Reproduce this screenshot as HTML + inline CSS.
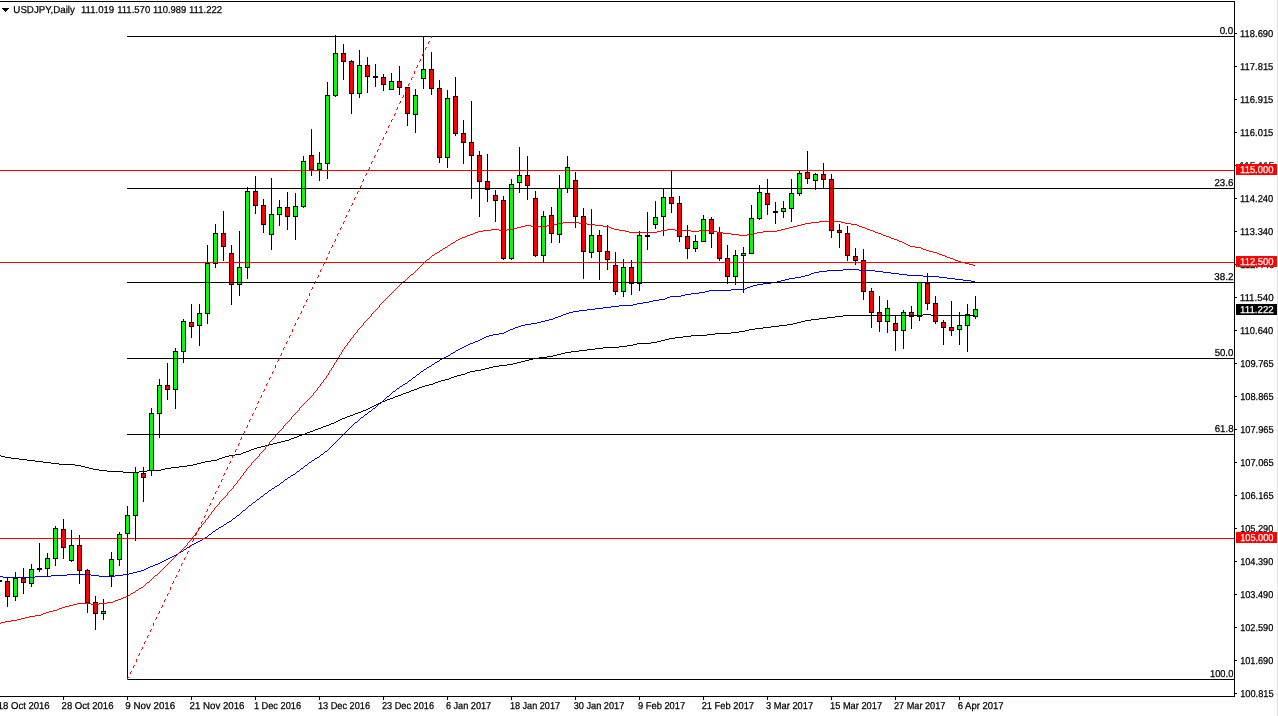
<!DOCTYPE html>
<html lang="en">
<head>
<meta charset="utf-8">
<title>USDJPY,Daily</title>
<style>
html,body{margin:0;padding:0;background:#fff;overflow:hidden;width:1278px;height:716px}
svg{display:block;position:absolute;left:0;top:0}
text{font-family:"Liberation Sans",Arial,sans-serif;font-size:10.0px;fill:#000;stroke:#000;stroke-width:0.25px;text-rendering:geometricPrecision}
.ce{shape-rendering:crispEdges}
.w{fill:#fff;stroke:#fff}
</style>
</head>
<body>

<svg width="1278" height="716" viewBox="0 0 1278 716">
<rect x="0" y="0" width="1278" height="716" fill="#fff"/>
<rect class="ce" x="1277" y="0" width="1" height="716" fill="#e3e3e3"/>
<g class="ce">
<rect x="-1" y="580" width="1" height="2" fill="#000"/>
<rect x="-3" y="580" width="5" height="2" fill="#000"/>
<rect x="7" y="578" width="1" height="29" fill="#000"/>
<rect x="5" y="581" width="5" height="16" fill="#000"/>
<rect x="6" y="582" width="3" height="14" fill="#f00"/>
<rect x="15" y="572" width="1" height="29" fill="#000"/>
<rect x="13" y="578" width="5" height="19" fill="#000"/>
<rect x="14" y="579" width="3" height="17" fill="#0f0"/>
<rect x="23" y="568" width="1" height="26" fill="#000"/>
<rect x="21" y="578" width="5" height="5" fill="#000"/>
<rect x="22" y="579" width="3" height="3" fill="#f00"/>
<rect x="31" y="564" width="1" height="23" fill="#000"/>
<rect x="29" y="569" width="5" height="15" fill="#000"/>
<rect x="30" y="570" width="3" height="13" fill="#0f0"/>
<rect x="39" y="543" width="1" height="29" fill="#000"/>
<rect x="37" y="568" width="5" height="2" fill="#000"/>
<rect x="47" y="553" width="1" height="24" fill="#000"/>
<rect x="45" y="558" width="5" height="11" fill="#000"/>
<rect x="46" y="559" width="3" height="9" fill="#0f0"/>
<rect x="55" y="526" width="1" height="40" fill="#000"/>
<rect x="53" y="528" width="5" height="31" fill="#000"/>
<rect x="54" y="529" width="3" height="29" fill="#0f0"/>
<rect x="63" y="519" width="1" height="40" fill="#000"/>
<rect x="61" y="529" width="5" height="19" fill="#000"/>
<rect x="62" y="530" width="3" height="17" fill="#f00"/>
<rect x="71" y="530" width="1" height="32" fill="#000"/>
<rect x="69" y="545" width="5" height="16" fill="#000"/>
<rect x="70" y="546" width="3" height="14" fill="#0f0"/>
<rect x="79" y="535" width="1" height="49" fill="#000"/>
<rect x="77" y="545" width="5" height="26" fill="#000"/>
<rect x="78" y="546" width="3" height="24" fill="#f00"/>
<rect x="87" y="569" width="1" height="44" fill="#000"/>
<rect x="85" y="570" width="5" height="33" fill="#000"/>
<rect x="86" y="571" width="3" height="31" fill="#f00"/>
<rect x="95" y="596" width="1" height="34" fill="#000"/>
<rect x="93" y="602" width="5" height="12" fill="#000"/>
<rect x="94" y="603" width="3" height="10" fill="#f00"/>
<rect x="103" y="599" width="1" height="21" fill="#000"/>
<rect x="101" y="611" width="5" height="3" fill="#000"/>
<rect x="102" y="612" width="3" height="1" fill="#0f0"/>
<rect x="111" y="552" width="1" height="35" fill="#000"/>
<rect x="109" y="559" width="5" height="17" fill="#000"/>
<rect x="110" y="560" width="3" height="15" fill="#0f0"/>
<rect x="119" y="532" width="1" height="34" fill="#000"/>
<rect x="117" y="534" width="5" height="26" fill="#000"/>
<rect x="118" y="535" width="3" height="24" fill="#0f0"/>
<rect x="127" y="506" width="1" height="174" fill="#000"/>
<rect x="125" y="515" width="5" height="19" fill="#000"/>
<rect x="126" y="516" width="3" height="17" fill="#0f0"/>
<rect x="135" y="467" width="1" height="74" fill="#000"/>
<rect x="133" y="472" width="5" height="44" fill="#000"/>
<rect x="134" y="473" width="3" height="42" fill="#0f0"/>
<rect x="143" y="467" width="1" height="35" fill="#000"/>
<rect x="141" y="473" width="5" height="5" fill="#000"/>
<rect x="142" y="474" width="3" height="3" fill="#f00"/>
<rect x="151" y="408" width="1" height="68" fill="#000"/>
<rect x="149" y="413" width="5" height="58" fill="#000"/>
<rect x="150" y="414" width="3" height="56" fill="#0f0"/>
<rect x="159" y="379" width="1" height="59" fill="#000"/>
<rect x="157" y="385" width="5" height="29" fill="#000"/>
<rect x="158" y="386" width="3" height="27" fill="#0f0"/>
<rect x="167" y="363" width="1" height="37" fill="#000"/>
<rect x="165" y="385" width="5" height="5" fill="#000"/>
<rect x="166" y="386" width="3" height="3" fill="#f00"/>
<rect x="175" y="348" width="1" height="61" fill="#000"/>
<rect x="173" y="351" width="5" height="39" fill="#000"/>
<rect x="174" y="352" width="3" height="37" fill="#0f0"/>
<rect x="183" y="319" width="1" height="44" fill="#000"/>
<rect x="181" y="321" width="5" height="31" fill="#000"/>
<rect x="182" y="322" width="3" height="29" fill="#0f0"/>
<rect x="191" y="304" width="1" height="34" fill="#000"/>
<rect x="189" y="322" width="5" height="5" fill="#000"/>
<rect x="190" y="323" width="3" height="3" fill="#f00"/>
<rect x="199" y="304" width="1" height="42" fill="#000"/>
<rect x="197" y="313" width="5" height="13" fill="#000"/>
<rect x="198" y="314" width="3" height="11" fill="#0f0"/>
<rect x="207" y="245" width="1" height="79" fill="#000"/>
<rect x="205" y="263" width="5" height="51" fill="#000"/>
<rect x="206" y="264" width="3" height="49" fill="#0f0"/>
<rect x="215" y="224" width="1" height="44" fill="#000"/>
<rect x="213" y="233" width="5" height="31" fill="#000"/>
<rect x="214" y="234" width="3" height="29" fill="#0f0"/>
<rect x="223" y="211" width="1" height="50" fill="#000"/>
<rect x="221" y="233" width="5" height="14" fill="#000"/>
<rect x="222" y="234" width="3" height="12" fill="#f00"/>
<rect x="231" y="245" width="1" height="60" fill="#000"/>
<rect x="229" y="253" width="5" height="32" fill="#000"/>
<rect x="230" y="254" width="3" height="30" fill="#f00"/>
<rect x="239" y="231" width="1" height="65" fill="#000"/>
<rect x="237" y="267" width="5" height="18" fill="#000"/>
<rect x="238" y="268" width="3" height="16" fill="#0f0"/>
<rect x="247" y="187" width="1" height="92" fill="#000"/>
<rect x="245" y="191" width="5" height="77" fill="#000"/>
<rect x="246" y="192" width="3" height="75" fill="#0f0"/>
<rect x="255" y="176" width="1" height="38" fill="#000"/>
<rect x="253" y="191" width="5" height="15" fill="#000"/>
<rect x="254" y="192" width="3" height="13" fill="#f00"/>
<rect x="263" y="199" width="1" height="34" fill="#000"/>
<rect x="261" y="205" width="5" height="20" fill="#000"/>
<rect x="262" y="206" width="3" height="18" fill="#f00"/>
<rect x="271" y="178" width="1" height="72" fill="#000"/>
<rect x="269" y="214" width="5" height="21" fill="#000"/>
<rect x="270" y="215" width="3" height="19" fill="#0f0"/>
<rect x="279" y="200" width="1" height="26" fill="#000"/>
<rect x="277" y="207" width="5" height="8" fill="#000"/>
<rect x="278" y="208" width="3" height="6" fill="#0f0"/>
<rect x="287" y="192" width="1" height="38" fill="#000"/>
<rect x="285" y="207" width="5" height="10" fill="#000"/>
<rect x="286" y="208" width="3" height="8" fill="#f00"/>
<rect x="295" y="193" width="1" height="47" fill="#000"/>
<rect x="293" y="206" width="5" height="11" fill="#000"/>
<rect x="294" y="207" width="3" height="9" fill="#0f0"/>
<rect x="303" y="156" width="1" height="52" fill="#000"/>
<rect x="301" y="161" width="5" height="46" fill="#000"/>
<rect x="302" y="162" width="3" height="44" fill="#0f0"/>
<rect x="311" y="129" width="1" height="47" fill="#000"/>
<rect x="309" y="155" width="5" height="15" fill="#000"/>
<rect x="310" y="156" width="3" height="13" fill="#f00"/>
<rect x="319" y="152" width="1" height="29" fill="#000"/>
<rect x="317" y="163" width="5" height="7" fill="#000"/>
<rect x="318" y="164" width="3" height="5" fill="#0f0"/>
<rect x="327" y="82" width="1" height="97" fill="#000"/>
<rect x="325" y="95" width="5" height="69" fill="#000"/>
<rect x="326" y="96" width="3" height="67" fill="#0f0"/>
<rect x="335" y="35" width="1" height="62" fill="#000"/>
<rect x="333" y="53" width="5" height="43" fill="#000"/>
<rect x="334" y="54" width="3" height="41" fill="#0f0"/>
<rect x="343" y="44" width="1" height="36" fill="#000"/>
<rect x="341" y="53" width="5" height="9" fill="#000"/>
<rect x="342" y="54" width="3" height="7" fill="#f00"/>
<rect x="351" y="60" width="1" height="54" fill="#000"/>
<rect x="349" y="61" width="5" height="33" fill="#000"/>
<rect x="350" y="62" width="3" height="31" fill="#f00"/>
<rect x="359" y="50" width="1" height="48" fill="#000"/>
<rect x="357" y="65" width="5" height="29" fill="#000"/>
<rect x="358" y="66" width="3" height="27" fill="#0f0"/>
<rect x="367" y="57" width="1" height="36" fill="#000"/>
<rect x="365" y="65" width="5" height="12" fill="#000"/>
<rect x="366" y="66" width="3" height="10" fill="#f00"/>
<rect x="375" y="64" width="1" height="23" fill="#000"/>
<rect x="373" y="76" width="5" height="2" fill="#000"/>
<rect x="383" y="74" width="1" height="17" fill="#000"/>
<rect x="381" y="77" width="5" height="8" fill="#000"/>
<rect x="382" y="78" width="3" height="6" fill="#f00"/>
<rect x="391" y="73" width="1" height="17" fill="#000"/>
<rect x="389" y="81" width="5" height="9" fill="#000"/>
<rect x="390" y="82" width="3" height="7" fill="#0f0"/>
<rect x="399" y="66" width="1" height="29" fill="#000"/>
<rect x="397" y="81" width="5" height="7" fill="#000"/>
<rect x="398" y="82" width="3" height="5" fill="#f00"/>
<rect x="407" y="87" width="1" height="39" fill="#000"/>
<rect x="405" y="87" width="5" height="27" fill="#000"/>
<rect x="406" y="88" width="3" height="25" fill="#f00"/>
<rect x="415" y="89" width="1" height="44" fill="#000"/>
<rect x="413" y="95" width="5" height="20" fill="#000"/>
<rect x="414" y="96" width="3" height="18" fill="#0f0"/>
<rect x="423" y="36" width="1" height="53" fill="#000"/>
<rect x="421" y="69" width="5" height="10" fill="#000"/>
<rect x="422" y="70" width="3" height="8" fill="#0f0"/>
<rect x="431" y="52" width="1" height="43" fill="#000"/>
<rect x="429" y="69" width="5" height="20" fill="#000"/>
<rect x="430" y="70" width="3" height="18" fill="#f00"/>
<rect x="439" y="80" width="1" height="83" fill="#000"/>
<rect x="437" y="88" width="5" height="70" fill="#000"/>
<rect x="438" y="89" width="3" height="68" fill="#f00"/>
<rect x="447" y="90" width="1" height="78" fill="#000"/>
<rect x="445" y="98" width="5" height="60" fill="#000"/>
<rect x="446" y="99" width="3" height="58" fill="#0f0"/>
<rect x="455" y="77" width="1" height="59" fill="#000"/>
<rect x="453" y="96" width="5" height="38" fill="#000"/>
<rect x="454" y="97" width="3" height="36" fill="#f00"/>
<rect x="463" y="120" width="1" height="44" fill="#000"/>
<rect x="461" y="133" width="5" height="10" fill="#000"/>
<rect x="462" y="134" width="3" height="8" fill="#f00"/>
<rect x="471" y="101" width="1" height="98" fill="#000"/>
<rect x="469" y="142" width="5" height="14" fill="#000"/>
<rect x="470" y="143" width="3" height="12" fill="#f00"/>
<rect x="479" y="151" width="1" height="66" fill="#000"/>
<rect x="477" y="155" width="5" height="27" fill="#000"/>
<rect x="478" y="156" width="3" height="25" fill="#f00"/>
<rect x="487" y="154" width="1" height="48" fill="#000"/>
<rect x="485" y="181" width="5" height="9" fill="#000"/>
<rect x="486" y="182" width="3" height="7" fill="#f00"/>
<rect x="495" y="190" width="1" height="32" fill="#000"/>
<rect x="493" y="195" width="5" height="6" fill="#000"/>
<rect x="494" y="196" width="3" height="4" fill="#f00"/>
<rect x="503" y="196" width="1" height="64" fill="#000"/>
<rect x="501" y="200" width="5" height="59" fill="#000"/>
<rect x="502" y="201" width="3" height="57" fill="#f00"/>
<rect x="511" y="179" width="1" height="81" fill="#000"/>
<rect x="509" y="184" width="5" height="75" fill="#000"/>
<rect x="510" y="185" width="3" height="73" fill="#0f0"/>
<rect x="519" y="147" width="1" height="46" fill="#000"/>
<rect x="517" y="175" width="5" height="8" fill="#000"/>
<rect x="518" y="176" width="3" height="6" fill="#0f0"/>
<rect x="527" y="156" width="1" height="44" fill="#000"/>
<rect x="525" y="175" width="5" height="11" fill="#000"/>
<rect x="526" y="176" width="3" height="9" fill="#f00"/>
<rect x="535" y="191" width="1" height="66" fill="#000"/>
<rect x="533" y="198" width="5" height="58" fill="#000"/>
<rect x="534" y="199" width="3" height="56" fill="#f00"/>
<rect x="543" y="211" width="1" height="51" fill="#000"/>
<rect x="541" y="216" width="5" height="40" fill="#000"/>
<rect x="542" y="217" width="3" height="38" fill="#0f0"/>
<rect x="551" y="207" width="1" height="36" fill="#000"/>
<rect x="549" y="215" width="5" height="19" fill="#000"/>
<rect x="550" y="216" width="3" height="17" fill="#f00"/>
<rect x="559" y="175" width="1" height="68" fill="#000"/>
<rect x="557" y="188" width="5" height="47" fill="#000"/>
<rect x="558" y="189" width="3" height="45" fill="#0f0"/>
<rect x="567" y="156" width="1" height="37" fill="#000"/>
<rect x="565" y="167" width="5" height="22" fill="#000"/>
<rect x="566" y="168" width="3" height="20" fill="#0f0"/>
<rect x="575" y="172" width="1" height="56" fill="#000"/>
<rect x="573" y="180" width="5" height="37" fill="#000"/>
<rect x="574" y="181" width="3" height="35" fill="#f00"/>
<rect x="583" y="208" width="1" height="71" fill="#000"/>
<rect x="581" y="216" width="5" height="36" fill="#000"/>
<rect x="582" y="217" width="3" height="34" fill="#f00"/>
<rect x="591" y="209" width="1" height="49" fill="#000"/>
<rect x="589" y="235" width="5" height="18" fill="#000"/>
<rect x="590" y="236" width="3" height="16" fill="#0f0"/>
<rect x="599" y="230" width="1" height="50" fill="#000"/>
<rect x="597" y="235" width="5" height="17" fill="#000"/>
<rect x="598" y="236" width="3" height="15" fill="#f00"/>
<rect x="607" y="225" width="1" height="45" fill="#000"/>
<rect x="605" y="251" width="5" height="9" fill="#000"/>
<rect x="606" y="252" width="3" height="7" fill="#f00"/>
<rect x="615" y="252" width="1" height="43" fill="#000"/>
<rect x="613" y="265" width="5" height="27" fill="#000"/>
<rect x="614" y="266" width="3" height="25" fill="#f00"/>
<rect x="623" y="259" width="1" height="38" fill="#000"/>
<rect x="621" y="267" width="5" height="25" fill="#000"/>
<rect x="622" y="268" width="3" height="23" fill="#0f0"/>
<rect x="631" y="260" width="1" height="35" fill="#000"/>
<rect x="629" y="267" width="5" height="17" fill="#000"/>
<rect x="630" y="268" width="3" height="15" fill="#f00"/>
<rect x="639" y="231" width="1" height="60" fill="#000"/>
<rect x="637" y="235" width="5" height="49" fill="#000"/>
<rect x="638" y="236" width="3" height="47" fill="#0f0"/>
<rect x="647" y="212" width="1" height="38" fill="#000"/>
<rect x="645" y="235" width="5" height="2" fill="#000"/>
<rect x="655" y="201" width="1" height="28" fill="#000"/>
<rect x="653" y="217" width="5" height="8" fill="#000"/>
<rect x="654" y="218" width="3" height="6" fill="#0f0"/>
<rect x="663" y="189" width="1" height="47" fill="#000"/>
<rect x="661" y="197" width="5" height="20" fill="#000"/>
<rect x="662" y="198" width="3" height="18" fill="#0f0"/>
<rect x="671" y="171" width="1" height="42" fill="#000"/>
<rect x="669" y="197" width="5" height="7" fill="#000"/>
<rect x="670" y="198" width="3" height="5" fill="#f00"/>
<rect x="679" y="196" width="1" height="46" fill="#000"/>
<rect x="677" y="203" width="5" height="34" fill="#000"/>
<rect x="678" y="204" width="3" height="32" fill="#f00"/>
<rect x="687" y="225" width="1" height="34" fill="#000"/>
<rect x="685" y="236" width="5" height="13" fill="#000"/>
<rect x="686" y="237" width="3" height="11" fill="#f00"/>
<rect x="695" y="235" width="1" height="17" fill="#000"/>
<rect x="693" y="241" width="5" height="8" fill="#000"/>
<rect x="694" y="242" width="3" height="6" fill="#0f0"/>
<rect x="703" y="215" width="1" height="27" fill="#000"/>
<rect x="701" y="219" width="5" height="23" fill="#000"/>
<rect x="702" y="220" width="3" height="21" fill="#0f0"/>
<rect x="711" y="217" width="1" height="31" fill="#000"/>
<rect x="709" y="219" width="5" height="15" fill="#000"/>
<rect x="710" y="220" width="3" height="13" fill="#f00"/>
<rect x="719" y="227" width="1" height="34" fill="#000"/>
<rect x="717" y="232" width="5" height="27" fill="#000"/>
<rect x="718" y="233" width="3" height="25" fill="#f00"/>
<rect x="727" y="245" width="1" height="39" fill="#000"/>
<rect x="725" y="258" width="5" height="19" fill="#000"/>
<rect x="726" y="259" width="3" height="17" fill="#f00"/>
<rect x="735" y="250" width="1" height="35" fill="#000"/>
<rect x="733" y="255" width="5" height="22" fill="#000"/>
<rect x="734" y="256" width="3" height="20" fill="#0f0"/>
<rect x="743" y="247" width="1" height="46" fill="#000"/>
<rect x="741" y="253" width="5" height="3" fill="#000"/>
<rect x="742" y="254" width="3" height="1" fill="#0f0"/>
<rect x="751" y="205" width="1" height="49" fill="#000"/>
<rect x="749" y="218" width="5" height="36" fill="#000"/>
<rect x="750" y="219" width="3" height="34" fill="#0f0"/>
<rect x="759" y="185" width="1" height="35" fill="#000"/>
<rect x="757" y="192" width="5" height="27" fill="#000"/>
<rect x="758" y="193" width="3" height="25" fill="#0f0"/>
<rect x="767" y="179" width="1" height="36" fill="#000"/>
<rect x="765" y="193" width="5" height="12" fill="#000"/>
<rect x="766" y="194" width="3" height="10" fill="#f00"/>
<rect x="775" y="202" width="1" height="22" fill="#000"/>
<rect x="773" y="211" width="5" height="2" fill="#000"/>
<rect x="783" y="201" width="1" height="17" fill="#000"/>
<rect x="781" y="208" width="5" height="4" fill="#000"/>
<rect x="782" y="209" width="3" height="2" fill="#0f0"/>
<rect x="791" y="179" width="1" height="43" fill="#000"/>
<rect x="789" y="193" width="5" height="16" fill="#000"/>
<rect x="790" y="194" width="3" height="14" fill="#0f0"/>
<rect x="799" y="171" width="1" height="25" fill="#000"/>
<rect x="797" y="173" width="5" height="21" fill="#000"/>
<rect x="798" y="174" width="3" height="19" fill="#0f0"/>
<rect x="807" y="151" width="1" height="33" fill="#000"/>
<rect x="805" y="172" width="5" height="7" fill="#000"/>
<rect x="806" y="173" width="3" height="5" fill="#f00"/>
<rect x="815" y="173" width="1" height="17" fill="#000"/>
<rect x="813" y="174" width="5" height="7" fill="#000"/>
<rect x="814" y="175" width="3" height="5" fill="#0f0"/>
<rect x="823" y="163" width="1" height="26" fill="#000"/>
<rect x="821" y="174" width="5" height="6" fill="#000"/>
<rect x="822" y="175" width="3" height="4" fill="#f00"/>
<rect x="831" y="174" width="1" height="64" fill="#000"/>
<rect x="829" y="179" width="5" height="52" fill="#000"/>
<rect x="830" y="180" width="3" height="50" fill="#f00"/>
<rect x="839" y="224" width="1" height="24" fill="#000"/>
<rect x="837" y="230" width="5" height="3" fill="#000"/>
<rect x="838" y="231" width="3" height="1" fill="#f00"/>
<rect x="847" y="226" width="1" height="35" fill="#000"/>
<rect x="845" y="233" width="5" height="23" fill="#000"/>
<rect x="846" y="234" width="3" height="21" fill="#f00"/>
<rect x="855" y="248" width="1" height="17" fill="#000"/>
<rect x="853" y="256" width="5" height="5" fill="#000"/>
<rect x="854" y="257" width="3" height="3" fill="#f00"/>
<rect x="863" y="249" width="1" height="51" fill="#000"/>
<rect x="861" y="260" width="5" height="32" fill="#000"/>
<rect x="862" y="261" width="3" height="30" fill="#f00"/>
<rect x="871" y="288" width="1" height="40" fill="#000"/>
<rect x="869" y="291" width="5" height="22" fill="#000"/>
<rect x="870" y="292" width="3" height="20" fill="#f00"/>
<rect x="879" y="296" width="1" height="36" fill="#000"/>
<rect x="877" y="312" width="5" height="10" fill="#000"/>
<rect x="878" y="313" width="3" height="8" fill="#f00"/>
<rect x="887" y="300" width="1" height="33" fill="#000"/>
<rect x="885" y="308" width="5" height="14" fill="#000"/>
<rect x="886" y="309" width="3" height="12" fill="#0f0"/>
<rect x="895" y="315" width="1" height="36" fill="#000"/>
<rect x="893" y="323" width="5" height="8" fill="#000"/>
<rect x="894" y="324" width="3" height="6" fill="#f00"/>
<rect x="903" y="310" width="1" height="39" fill="#000"/>
<rect x="901" y="312" width="5" height="19" fill="#000"/>
<rect x="902" y="313" width="3" height="17" fill="#0f0"/>
<rect x="911" y="306" width="1" height="23" fill="#000"/>
<rect x="909" y="312" width="5" height="5" fill="#000"/>
<rect x="910" y="313" width="3" height="3" fill="#f00"/>
<rect x="919" y="282" width="1" height="39" fill="#000"/>
<rect x="917" y="282" width="5" height="35" fill="#000"/>
<rect x="918" y="283" width="3" height="33" fill="#0f0"/>
<rect x="927" y="273" width="1" height="37" fill="#000"/>
<rect x="925" y="283" width="5" height="21" fill="#000"/>
<rect x="926" y="284" width="3" height="19" fill="#f00"/>
<rect x="935" y="296" width="1" height="28" fill="#000"/>
<rect x="933" y="303" width="5" height="19" fill="#000"/>
<rect x="934" y="304" width="3" height="17" fill="#f00"/>
<rect x="943" y="320" width="1" height="25" fill="#000"/>
<rect x="941" y="322" width="5" height="6" fill="#000"/>
<rect x="942" y="323" width="3" height="4" fill="#f00"/>
<rect x="951" y="301" width="1" height="35" fill="#000"/>
<rect x="949" y="327" width="5" height="4" fill="#000"/>
<rect x="950" y="328" width="3" height="2" fill="#f00"/>
<rect x="959" y="312" width="1" height="33" fill="#000"/>
<rect x="957" y="325" width="5" height="5" fill="#000"/>
<rect x="958" y="326" width="3" height="3" fill="#0f0"/>
<rect x="967" y="304" width="1" height="48" fill="#000"/>
<rect x="965" y="314" width="5" height="12" fill="#000"/>
<rect x="966" y="315" width="3" height="10" fill="#0f0"/>
<rect x="975" y="296" width="1" height="23" fill="#000"/>
<rect x="973" y="309" width="5" height="8" fill="#000"/>
<rect x="974" y="310" width="3" height="6" fill="#0f0"/>
</g>
<path class="ce" fill="#000" d="M923 314h8v1h-8zM843 315h80v1h-80zM931 315h44v1h-44zM835 316h8v1h-8zM827 317h8v1h-8zM819 318h8v1h-8zM811 319h8v1h-8zM805 320h6v1h-6zM801 321h4v1h-4zM797 322h4v1h-4zM793 323h4v1h-4zM787 324h6v1h-6zM779 325h8v1h-8zM771 326h8v1h-8zM763 327h8v1h-8zM755 328h8v1h-8zM749 329h6v1h-6zM745 330h4v1h-4zM739 331h6v1h-6zM731 332h8v1h-8zM715 333h16v1h-16zM707 334h8v1h-8zM691 335h16v1h-16zM683 336h8v1h-8zM675 337h8v1h-8zM669 338h6v1h-6zM665 339h4v1h-4zM661 340h4v1h-4zM657 341h4v1h-4zM651 342h6v1h-6zM637 343h14v1h-14zM633 344h4v1h-4zM627 345h6v1h-6zM619 346h8v1h-8zM603 347h16v1h-16zM595 348h8v1h-8zM587 349h8v1h-8zM579 350h8v1h-8zM571 351h8v1h-8zM565 352h6v1h-6zM561 353h4v1h-4zM557 354h4v1h-4zM553 355h4v1h-4zM547 356h6v1h-6zM539 357h8v1h-8zM533 358h6v1h-6zM529 359h4v1h-4zM525 360h4v1h-4zM521 361h4v1h-4zM517 362h4v1h-4zM513 363h4v1h-4zM507 364h6v1h-6zM499 365h8v1h-8zM493 366h6v1h-6zM489 367h4v1h-4zM485 368h4v1h-4zM481 369h4v1h-4zM475 370h6v1h-6zM470 371h5v1h-5zM467 372h3v1h-3zM465 373h2v1h-2zM461 374h4v1h-4zM457 375h4v1h-4zM454 376h3v1h-3zM451 377h3v1h-3zM449 378h2v1h-2zM445 379h4v1h-4zM441 380h4v1h-4zM438 381h3v1h-3zM435 382h3v1h-3zM433 383h2v1h-2zM429 384h4v1h-4zM425 385h4v1h-4zM422 386h3v1h-3zM419 387h3v1h-3zM417 388h2v1h-2zM414 389h3v1h-3zM411 390h3v1h-3zM409 391h2v1h-2zM406 392h3v1h-3zM403 393h3v1h-3zM401 394h2v1h-2zM398 395h3v1h-3zM395 396h3v1h-3zM393 397h2v1h-2zM390 398h3v1h-3zM387 399h3v1h-3zM385 400h2v1h-2zM382 401h3v1h-3zM380 402h2v1h-2zM378 403h2v1h-2zM376 404h2v1h-2zM374 405h2v1h-2zM372 406h2v1h-2zM370 407h2v1h-2zM368 408h2v1h-2zM366 409h2v1h-2zM363 410h3v1h-3zM361 411h2v1h-2zM358 412h3v1h-3zM355 413h3v1h-3zM353 414h2v1h-2zM350 415h3v1h-3zM347 416h3v1h-3zM345 417h2v1h-2zM342 418h3v1h-3zM340 419h2v1h-2zM338 420h2v1h-2zM336 421h2v1h-2zM334 422h2v1h-2zM331 423h3v1h-3zM329 424h2v1h-2zM326 425h3v1h-3zM323 426h3v1h-3zM321 427h2v1h-2zM318 428h3v1h-3zM315 429h3v1h-3zM313 430h2v1h-2zM310 431h3v1h-3zM307 432h3v1h-3zM305 433h2v1h-2zM302 434h3v1h-3zM299 435h3v1h-3zM297 436h2v1h-2zM294 437h3v1h-3zM291 438h3v1h-3zM289 439h2v1h-2zM285 440h4v1h-4zM281 441h4v1h-4zM277 442h4v1h-4zM273 443h4v1h-4zM269 444h4v1h-4zM265 445h4v1h-4zM261 446h4v1h-4zM257 447h4v1h-4zM254 448h3v1h-3zM251 449h3v1h-3zM249 450h2v1h-2zM246 451h3v1h-3zM243 452h3v1h-3zM241 453h2v1h-2zM235 454h6v1h-6zM0 455h1v1h-1zM229 455h6v1h-6zM1 456h4v1h-4zM225 456h4v1h-4zM5 457h6v1h-6zM222 457h3v1h-3zM11 458h8v1h-8zM219 458h3v1h-3zM19 459h8v1h-8zM217 459h2v1h-2zM27 460h8v1h-8zM211 460h6v1h-6zM35 461h8v1h-8zM205 461h6v1h-6zM43 462h8v1h-8zM201 462h4v1h-4zM51 463h8v1h-8zM197 463h4v1h-4zM59 464h16v1h-16zM193 464h4v1h-4zM75 465h6v1h-6zM187 465h6v1h-6zM81 466h4v1h-4zM179 466h8v1h-8zM85 467h4v1h-4zM171 467h8v1h-8zM89 468h4v1h-4zM165 468h6v1h-6zM93 469h6v1h-6zM161 469h4v1h-4zM99 470h8v1h-8zM147 470h14v1h-14zM107 471h16v1h-16zM139 471h8v1h-8zM123 472h16v1h-16z"/>
<path class="ce" fill="#0000cd" d="M843 269h16v1h-16zM827 270h16v1h-16zM859 270h16v1h-16zM819 271h8v1h-8zM875 271h8v1h-8zM814 272h5v1h-5zM883 272h8v1h-8zM811 273h3v1h-3zM891 273h8v1h-8zM809 274h2v1h-2zM899 274h8v1h-8zM805 275h4v1h-4zM907 275h16v1h-16zM801 276h4v1h-4zM923 276h16v1h-16zM795 277h6v1h-6zM939 277h8v1h-8zM789 278h6v1h-6zM947 278h8v1h-8zM785 279h4v1h-4zM955 279h8v1h-8zM781 280h4v1h-4zM963 280h8v1h-8zM777 281h4v1h-4zM971 281h4v1h-4zM771 282h6v1h-6zM763 283h8v1h-8zM757 284h6v1h-6zM753 285h4v1h-4zM750 286h3v1h-3zM747 287h3v1h-3zM745 288h2v1h-2zM731 289h14v1h-14zM709 290h22v1h-22zM705 291h4v1h-4zM699 292h6v1h-6zM691 293h8v1h-8zM685 294h6v1h-6zM681 295h4v1h-4zM670 296h11v1h-11zM667 297h3v1h-3zM665 298h2v1h-2zM659 299h6v1h-6zM653 300h6v1h-6zM649 301h4v1h-4zM643 302h6v1h-6zM637 303h6v1h-6zM633 304h4v1h-4zM619 305h14v1h-14zM611 306h8v1h-8zM603 307h8v1h-8zM595 308h8v1h-8zM587 309h8v1h-8zM579 310h8v1h-8zM573 311h6v1h-6zM569 312h4v1h-4zM566 313h3v1h-3zM563 314h3v1h-3zM561 315h2v1h-2zM558 316h3v1h-3zM555 317h3v1h-3zM553 318h2v1h-2zM549 319h4v1h-4zM545 320h4v1h-4zM541 321h4v1h-4zM537 322h4v1h-4zM531 323h6v1h-6zM525 324h6v1h-6zM521 325h4v1h-4zM518 326h3v1h-3zM515 327h3v1h-3zM513 328h2v1h-2zM510 329h3v1h-3zM508 330h2v1h-2zM506 331h2v1h-2zM504 332h2v1h-2zM499 333h5v1h-5zM493 334h6v1h-6zM489 335h4v1h-4zM486 336h3v1h-3zM484 337h2v1h-2zM482 338h2v1h-2zM480 339h2v1h-2zM478 340h2v1h-2zM475 341h3v1h-3zM473 342h2v1h-2zM470 343h3v1h-3zM468 344h2v1h-2zM466 345h2v1h-2zM464 346h2v1h-2zM462 347h2v1h-2zM460 348h2v1h-2zM458 349h2v1h-2zM456 350h2v1h-2zM455 351h1v1h-1zM453 352h2v1h-2zM451 353h2v1h-2zM450 354h1v1h-1zM448 355h2v1h-2zM446 356h2v1h-2zM444 357h2v1h-2zM442 358h2v1h-2zM440 359h2v1h-2zM439 360h1v1h-1zM437 361h2v1h-2zM435 362h2v1h-2zM434 363h1v1h-1zM432 364h2v1h-2zM431 365h1v1h-1zM429 366h2v1h-2zM427 367h2v1h-2zM426 368h1v1h-1zM424 369h2v1h-2zM423 370h1v1h-1zM421 371h2v1h-2zM420 372h1v1h-1zM419 373h1v1h-1zM417 374h2v1h-2zM416 375h1v1h-1zM415 376h1v1h-1zM413 377h2v1h-2zM412 378h1v1h-1zM411 379h1v1h-1zM409 380h2v1h-2zM408 381h1v1h-1zM407 382h1v1h-1zM405 383h2v1h-2zM403 384h2v1h-2zM402 385h1v1h-1zM400 386h2v1h-2zM399 387h1v1h-1zM397 388h2v1h-2zM396 389h1v1h-1zM395 390h1v1h-1zM393 391h2v1h-2zM392 392h1v1h-1zM391 393h1v1h-1zM390 394h1v1h-1zM389 395h1v1h-1zM387 396h2v1h-2zM386 397h1v1h-1zM385 398h1v1h-1zM384 399h1v1h-1zM383 400h1v1h-1zM382 401h1v1h-1zM381 402h1v1h-1zM379 403h2v1h-2zM378 404h1v1h-1zM377 405h1v1h-1zM376 406h1v1h-1zM375 407h1v1h-1zM373 408h2v1h-2zM372 409h1v1h-1zM371 410h1v1h-1zM369 411h2v1h-2zM368 412h1v1h-1zM367 413h1v1h-1zM365 414h2v1h-2zM364 415h1v1h-1zM363 416h1v1h-1zM361 417h2v1h-2zM360 418h1v1h-1zM359 419h1v1h-1zM358 420h1v1h-1zM357 421h1v1h-1zM355 422h2v1h-2zM354 423h1v1h-1zM353 424h1v1h-1zM352 425h1v1h-1zM351 426h1v1h-1zM350 427h1v1h-1zM349 428h1v1h-1zM348 429h1v1h-1zM347 430h1v1h-1zM346 431h1v1h-1zM345 432h1v1h-1zM344 433h1v1h-1zM343 434h1v1h-1zM342 435h1v1h-1zM341 436h1v1h-1zM340 437h1v1h-1zM339 438h1v1h-1zM338 439h1v1h-1zM337 440h1v1h-1zM336 441h1v1h-1zM335 442h1v1h-1zM334 443h1v1h-1zM333 444h1v1h-1zM332 445h1v1h-1zM331 446h1v1h-1zM330 447h1v1h-1zM329 448h1v1h-1zM328 449h1v1h-1zM327 450h1v1h-1zM325 451h2v1h-2zM324 452h1v1h-1zM323 453h1v1h-1zM321 454h2v1h-2zM320 455h1v1h-1zM319 456h1v1h-1zM317 457h2v1h-2zM315 458h2v1h-2zM314 459h1v1h-1zM312 460h2v1h-2zM311 461h1v1h-1zM309 462h2v1h-2zM308 463h1v1h-1zM307 464h1v1h-1zM305 465h2v1h-2zM304 466h1v1h-1zM303 467h1v1h-1zM301 468h2v1h-2zM300 469h1v1h-1zM299 470h1v1h-1zM297 471h2v1h-2zM296 472h1v1h-1zM295 473h1v1h-1zM293 474h2v1h-2zM291 475h2v1h-2zM290 476h1v1h-1zM288 477h2v1h-2zM287 478h1v1h-1zM285 479h2v1h-2zM284 480h1v1h-1zM283 481h1v1h-1zM281 482h2v1h-2zM280 483h1v1h-1zM279 484h1v1h-1zM277 485h2v1h-2zM275 486h2v1h-2zM274 487h1v1h-1zM272 488h2v1h-2zM271 489h1v1h-1zM269 490h2v1h-2zM268 491h1v1h-1zM267 492h1v1h-1zM265 493h2v1h-2zM264 494h1v1h-1zM263 495h1v1h-1zM261 496h2v1h-2zM260 497h1v1h-1zM259 498h1v1h-1zM257 499h2v1h-2zM256 500h1v1h-1zM255 501h1v1h-1zM253 502h2v1h-2zM252 503h1v1h-1zM251 504h1v1h-1zM249 505h2v1h-2zM248 506h1v1h-1zM247 507h1v1h-1zM246 508h1v1h-1zM245 509h1v1h-1zM243 510h2v1h-2zM242 511h1v1h-1zM241 512h1v1h-1zM240 513h1v1h-1zM239 514h1v1h-1zM237 515h2v1h-2zM236 516h1v1h-1zM235 517h1v1h-1zM233 518h2v1h-2zM232 519h1v1h-1zM231 520h1v1h-1zM229 521h2v1h-2zM227 522h2v1h-2zM226 523h1v1h-1zM224 524h2v1h-2zM223 525h1v1h-1zM221 526h2v1h-2zM219 527h2v1h-2zM218 528h1v1h-1zM216 529h2v1h-2zM215 530h1v1h-1zM213 531h2v1h-2zM212 532h1v1h-1zM211 533h1v1h-1zM209 534h2v1h-2zM208 535h1v1h-1zM207 536h1v1h-1zM205 537h2v1h-2zM203 538h2v1h-2zM202 539h1v1h-1zM200 540h2v1h-2zM198 541h2v1h-2zM196 542h2v1h-2zM194 543h2v1h-2zM192 544h2v1h-2zM191 545h1v1h-1zM189 546h2v1h-2zM187 547h2v1h-2zM186 548h1v1h-1zM184 549h2v1h-2zM183 550h1v1h-1zM181 551h2v1h-2zM179 552h2v1h-2zM178 553h1v1h-1zM176 554h2v1h-2zM174 555h2v1h-2zM172 556h2v1h-2zM170 557h2v1h-2zM168 558h2v1h-2zM166 559h2v1h-2zM164 560h2v1h-2zM162 561h2v1h-2zM160 562h2v1h-2zM158 563h2v1h-2zM155 564h3v1h-3zM153 565h2v1h-2zM150 566h3v1h-3zM148 567h2v1h-2zM146 568h2v1h-2zM144 569h2v1h-2zM141 570h3v1h-3zM137 571h4v1h-4zM133 572h4v1h-4zM129 573h4v1h-4zM67 574h24v1h-24zM123 574h6v1h-6zM51 575h16v1h-16zM91 575h8v1h-8zM115 575h8v1h-8zM0 576h3v1h-3zM35 576h16v1h-16zM99 576h16v1h-16zM3 577h32v1h-32z"/>
<path class="ce" fill="#f00" d="M819 221h22v1h-22zM563 222h16v1h-16zM811 222h8v1h-8zM841 222h4v1h-4zM557 223h6v1h-6zM579 223h8v1h-8zM805 223h6v1h-6zM845 223h6v1h-6zM553 224h4v1h-4zM587 224h8v1h-8zM801 224h4v1h-4zM851 224h6v1h-6zM525 225h6v1h-6zM547 225h6v1h-6zM595 225h8v1h-8zM797 225h4v1h-4zM857 225h2v1h-2zM521 226h4v1h-4zM531 226h16v1h-16zM603 226h6v1h-6zM793 226h4v1h-4zM859 226h3v1h-3zM517 227h4v1h-4zM609 227h2v1h-2zM789 227h4v1h-4zM862 227h3v1h-3zM513 228h4v1h-4zM611 228h3v1h-3zM785 228h4v1h-4zM865 228h2v1h-2zM491 229h8v1h-8zM507 229h6v1h-6zM614 229h5v1h-5zM667 229h8v1h-8zM781 229h4v1h-4zM867 229h3v1h-3zM483 230h8v1h-8zM499 230h8v1h-8zM619 230h6v1h-6zM661 230h6v1h-6zM675 230h16v1h-16zM699 230h14v1h-14zM777 230h4v1h-4zM870 230h3v1h-3zM478 231h5v1h-5zM625 231h4v1h-4zM657 231h4v1h-4zM691 231h8v1h-8zM713 231h4v1h-4zM763 231h14v1h-14zM873 231h2v1h-2zM475 232h3v1h-3zM629 232h28v1h-28zM717 232h6v1h-6zM757 232h6v1h-6zM875 232h3v1h-3zM473 233h2v1h-2zM723 233h8v1h-8zM753 233h4v1h-4zM878 233h3v1h-3zM470 234h3v1h-3zM731 234h8v1h-8zM747 234h6v1h-6zM881 234h2v1h-2zM467 235h3v1h-3zM739 235h8v1h-8zM883 235h3v1h-3zM465 236h2v1h-2zM886 236h3v1h-3zM462 237h3v1h-3zM889 237h2v1h-2zM460 238h2v1h-2zM891 238h3v1h-3zM458 239h2v1h-2zM894 239h3v1h-3zM456 240h2v1h-2zM897 240h2v1h-2zM455 241h1v1h-1zM899 241h3v1h-3zM453 242h2v1h-2zM902 242h2v1h-2zM451 243h2v1h-2zM904 243h2v1h-2zM450 244h1v1h-1zM906 244h2v1h-2zM448 245h2v1h-2zM908 245h2v1h-2zM447 246h1v1h-1zM910 246h5v1h-5zM445 247h2v1h-2zM915 247h6v1h-6zM443 248h2v1h-2zM921 248h2v1h-2zM442 249h1v1h-1zM923 249h3v1h-3zM440 250h2v1h-2zM926 250h3v1h-3zM439 251h1v1h-1zM929 251h4v1h-4zM437 252h2v1h-2zM933 252h4v1h-4zM435 253h2v1h-2zM937 253h2v1h-2zM434 254h1v1h-1zM939 254h3v1h-3zM432 255h2v1h-2zM942 255h3v1h-3zM431 256h1v1h-1zM945 256h2v1h-2zM430 257h1v1h-1zM947 257h3v1h-3zM429 258h1v1h-1zM950 258h3v1h-3zM427 259h2v1h-2zM953 259h2v1h-2zM426 260h1v1h-1zM955 260h3v1h-3zM425 261h1v1h-1zM958 261h3v1h-3zM424 262h1v1h-1zM961 262h4v1h-4zM423 263h1v1h-1zM965 263h4v1h-4zM422 264h1v1h-1zM969 264h4v1h-4zM421 265h1v1h-1zM973 265h2v1h-2zM420 266h1v1h-1zM419 267h1v1h-1zM418 268h1v1h-1zM417 269h1v1h-1zM416 270h1v1h-1zM415 271h1v1h-1zM414 272h1v1h-1zM413 273h1v1h-1zM411 274h2v1h-2zM410 275h1v1h-1zM409 276h1v1h-1zM408 277h1v1h-1zM407 278h1v1h-1zM406 279h1v1h-1zM405 280h1v1h-1zM403 281h2v1h-2zM402 282h1v1h-1zM401 283h1v1h-1zM400 284h1v1h-1zM399 285h1v1h-1zM398 286h1v1h-1zM397 287h1v1h-1zM396 288h1v1h-1zM395 289h1v1h-1zM394 290h1v1h-1zM393 291h1v1h-1zM392 292h1v1h-1zM391 293h1v1h-1zM390 294h1v1h-1zM389 295h1v1h-1zM388 296h1v1h-1zM387 297h1v1h-1zM386 298h1v1h-1zM385 299h1v1h-1zM384 300h1v1h-1zM383 301h1v1h-1zM382 302h1v1h-1zM381 303h1v1h-1zM380 304h1v1h-1zM379 305h1v1h-1zM379 306h1v1h-1zM378 307h1v1h-1zM377 308h1v1h-1zM376 309h1v1h-1zM375 310h1v1h-1zM374 311h1v1h-1zM373 312h1v1h-1zM372 313h1v1h-1zM371 314h1v1h-1zM371 315h1v1h-1zM370 316h1v1h-1zM369 317h1v1h-1zM368 318h1v1h-1zM367 319h1v1h-1zM366 320h1v1h-1zM365 321h1v1h-1zM364 322h1v1h-1zM363 323h1v1h-1zM363 324h1v1h-1zM362 325h1v1h-1zM361 326h1v1h-1zM360 327h1v1h-1zM359 328h1v1h-1zM358 329h1v1h-1zM357 330h1v1h-1zM357 331h1v1h-1zM356 332h1v1h-1zM355 333h1v1h-1zM354 334h1v1h-1zM353 335h1v1h-1zM353 336h1v1h-1zM352 337h1v1h-1zM351 338h1v1h-1zM350 339h1v1h-1zM350 340h1v1h-1zM349 341h1v1h-1zM348 342h1v1h-1zM347 343h1v1h-1zM347 344h1v1h-1zM346 345h1v1h-1zM345 346h1v1h-1zM344 347h1v1h-1zM344 348h1v1h-1zM343 349h1v1h-1zM342 350h1v1h-1zM342 351h1v1h-1zM341 352h1v1h-1zM341 353h1v1h-1zM340 354h1v1h-1zM339 355h1v1h-1zM339 356h1v1h-1zM338 357h1v1h-1zM337 358h1v1h-1zM337 359h1v1h-1zM336 360h1v1h-1zM336 361h1v1h-1zM335 362h1v1h-1zM334 363h1v1h-1zM334 364h1v1h-1zM333 365h1v1h-1zM333 366h1v1h-1zM332 367h1v1h-1zM331 368h1v1h-1zM331 369h1v1h-1zM330 370h1v1h-1zM329 371h1v1h-1zM329 372h1v1h-1zM328 373h1v1h-1zM328 374h1v1h-1zM327 375h1v1h-1zM326 376h1v1h-1zM326 377h1v1h-1zM325 378h1v1h-1zM324 379h1v1h-1zM323 380h1v1h-1zM323 381h1v1h-1zM322 382h1v1h-1zM321 383h1v1h-1zM320 384h1v1h-1zM320 385h1v1h-1zM319 386h1v1h-1zM318 387h1v1h-1zM317 388h1v1h-1zM317 389h1v1h-1zM316 390h1v1h-1zM315 391h1v1h-1zM314 392h1v1h-1zM313 393h1v1h-1zM313 394h1v1h-1zM312 395h1v1h-1zM311 396h1v1h-1zM310 397h1v1h-1zM309 398h1v1h-1zM308 399h1v1h-1zM307 400h1v1h-1zM306 401h1v1h-1zM305 402h1v1h-1zM304 403h1v1h-1zM303 404h1v1h-1zM302 405h1v1h-1zM301 406h1v1h-1zM300 407h1v1h-1zM299 408h1v1h-1zM299 409h1v1h-1zM298 410h1v1h-1zM297 411h1v1h-1zM296 412h1v1h-1zM295 413h1v1h-1zM294 414h1v1h-1zM293 415h1v1h-1zM292 416h1v1h-1zM291 417h1v1h-1zM291 418h1v1h-1zM290 419h1v1h-1zM289 420h1v1h-1zM288 421h1v1h-1zM287 422h1v1h-1zM286 423h1v1h-1zM285 424h1v1h-1zM284 425h1v1h-1zM283 426h1v1h-1zM283 427h1v1h-1zM282 428h1v1h-1zM281 429h1v1h-1zM280 430h1v1h-1zM279 431h1v1h-1zM278 432h1v1h-1zM277 433h1v1h-1zM276 434h1v1h-1zM275 435h1v1h-1zM275 436h1v1h-1zM274 437h1v1h-1zM273 438h1v1h-1zM272 439h1v1h-1zM271 440h1v1h-1zM270 441h1v1h-1zM269 442h1v1h-1zM269 443h1v1h-1zM268 444h1v1h-1zM267 445h1v1h-1zM266 446h1v1h-1zM265 447h1v1h-1zM265 448h1v1h-1zM264 449h1v1h-1zM263 450h1v1h-1zM262 451h1v1h-1zM261 452h1v1h-1zM260 453h1v1h-1zM259 454h1v1h-1zM259 455h1v1h-1zM258 456h1v1h-1zM257 457h1v1h-1zM256 458h1v1h-1zM255 459h1v1h-1zM254 460h1v1h-1zM253 461h1v1h-1zM252 462h1v1h-1zM251 463h1v1h-1zM251 464h1v1h-1zM250 465h1v1h-1zM249 466h1v1h-1zM248 467h1v1h-1zM247 468h1v1h-1zM246 469h1v1h-1zM246 470h1v1h-1zM245 471h1v1h-1zM244 472h1v1h-1zM243 473h1v1h-1zM243 474h1v1h-1zM242 475h1v1h-1zM241 476h1v1h-1zM240 477h1v1h-1zM240 478h1v1h-1zM239 479h1v1h-1zM238 480h1v1h-1zM237 481h1v1h-1zM237 482h1v1h-1zM236 483h1v1h-1zM235 484h1v1h-1zM234 485h1v1h-1zM233 486h1v1h-1zM233 487h1v1h-1zM232 488h1v1h-1zM231 489h1v1h-1zM230 490h1v1h-1zM229 491h1v1h-1zM228 492h1v1h-1zM227 493h1v1h-1zM227 494h1v1h-1zM226 495h1v1h-1zM225 496h1v1h-1zM224 497h1v1h-1zM223 498h1v1h-1zM222 499h1v1h-1zM221 500h1v1h-1zM220 501h1v1h-1zM219 502h1v1h-1zM219 503h1v1h-1zM218 504h1v1h-1zM217 505h1v1h-1zM216 506h1v1h-1zM215 507h1v1h-1zM214 508h1v1h-1zM214 509h1v1h-1zM213 510h1v1h-1zM212 511h1v1h-1zM211 512h1v1h-1zM211 513h1v1h-1zM210 514h1v1h-1zM209 515h1v1h-1zM208 516h1v1h-1zM208 517h1v1h-1zM207 518h1v1h-1zM206 519h1v1h-1zM205 520h1v1h-1zM205 521h1v1h-1zM204 522h1v1h-1zM203 523h1v1h-1zM202 524h1v1h-1zM201 525h1v1h-1zM201 526h1v1h-1zM200 527h1v1h-1zM199 528h1v1h-1zM198 529h1v1h-1zM198 530h1v1h-1zM197 531h1v1h-1zM196 532h1v1h-1zM195 533h1v1h-1zM195 534h1v1h-1zM194 535h1v1h-1zM193 536h1v1h-1zM192 537h1v1h-1zM192 538h1v1h-1zM191 539h1v1h-1zM190 540h1v1h-1zM189 541h1v1h-1zM188 542h1v1h-1zM187 543h1v1h-1zM187 544h1v1h-1zM186 545h1v1h-1zM185 546h1v1h-1zM184 547h1v1h-1zM183 548h1v1h-1zM182 549h1v1h-1zM181 550h1v1h-1zM180 551h1v1h-1zM179 552h1v1h-1zM178 553h1v1h-1zM177 554h1v1h-1zM176 555h1v1h-1zM175 556h1v1h-1zM174 557h1v1h-1zM173 558h1v1h-1zM172 559h1v1h-1zM171 560h1v1h-1zM170 561h1v1h-1zM169 562h1v1h-1zM168 563h1v1h-1zM167 564h1v1h-1zM166 565h1v1h-1zM165 566h1v1h-1zM164 567h1v1h-1zM163 568h1v1h-1zM162 569h1v1h-1zM161 570h1v1h-1zM160 571h1v1h-1zM159 572h1v1h-1zM158 573h1v1h-1zM157 574h1v1h-1zM155 575h2v1h-2zM154 576h1v1h-1zM153 577h1v1h-1zM152 578h1v1h-1zM151 579h1v1h-1zM150 580h1v1h-1zM149 581h1v1h-1zM147 582h2v1h-2zM146 583h1v1h-1zM145 584h1v1h-1zM144 585h1v1h-1zM143 586h1v1h-1zM141 587h2v1h-2zM139 588h2v1h-2zM138 589h1v1h-1zM136 590h2v1h-2zM135 591h1v1h-1zM133 592h2v1h-2zM131 593h2v1h-2zM130 594h1v1h-1zM128 595h2v1h-2zM126 596h2v1h-2zM123 597h3v1h-3zM121 598h2v1h-2zM118 599h3v1h-3zM115 600h3v1h-3zM113 601h2v1h-2zM107 602h6v1h-6zM77 603h14v1h-14zM99 603h8v1h-8zM73 604h4v1h-4zM91 604h8v1h-8zM69 605h4v1h-4zM65 606h4v1h-4zM62 607h3v1h-3zM59 608h3v1h-3zM57 609h2v1h-2zM53 610h4v1h-4zM49 611h4v1h-4zM46 612h3v1h-3zM43 613h3v1h-3zM41 614h2v1h-2zM35 615h6v1h-6zM29 616h6v1h-6zM25 617h4v1h-4zM21 618h4v1h-4zM17 619h4v1h-4zM11 620h6v1h-6zM5 621h6v1h-6zM1 622h4v1h-4zM0 623h1v1h-1z"/>
<g class="ce">
<rect x="0" y="170" width="1234" height="1" fill="#f00"/>
<rect x="0" y="262" width="1234" height="1" fill="#f00"/>
<rect x="0" y="538" width="1234" height="1" fill="#f00"/>
<rect x="127" y="36" width="1107" height="1" fill="#000"/>
<rect x="127" y="188" width="1107" height="1" fill="#000"/>
<rect x="127" y="282" width="1107" height="1" fill="#000"/>
<rect x="127" y="358" width="1107" height="1" fill="#000"/>
<rect x="127" y="434" width="1107" height="1" fill="#000"/>
<rect x="127" y="679" width="1107" height="1" fill="#000"/>
</g>
<path class="ce" fill="#f00" d="M431 36h1v1h-1zM431 37h1v1h-1zM429 41h1v1h-1zM428 42h1v1h-1zM428 43h1v1h-1zM426 47h1v1h-1zM425 48h1v1h-1zM425 49h1v1h-1zM423 53h1v1h-1zM422 54h1v1h-1zM422 55h1v1h-1zM420 59h1v1h-1zM420 60h1v1h-1zM419 61h1v1h-1zM417 65h1v1h-1zM417 66h1v1h-1zM416 67h1v1h-1zM414 71h1v1h-1zM414 72h1v1h-1zM414 73h1v1h-1zM412 77h1v1h-1zM411 78h1v1h-1zM411 79h1v1h-1zM409 83h1v1h-1zM408 84h1v1h-1zM408 85h1v1h-1zM406 89h1v1h-1zM405 90h1v1h-1zM405 91h1v1h-1zM403 95h1v1h-1zM403 96h1v1h-1zM402 97h1v1h-1zM400 101h1v1h-1zM400 102h1v1h-1zM399 103h1v1h-1zM397 107h1v1h-1zM397 108h1v1h-1zM396 109h1v1h-1zM395 113h1v1h-1zM394 114h1v1h-1zM394 115h1v1h-1zM392 119h1v1h-1zM391 120h1v1h-1zM391 121h1v1h-1zM389 125h1v1h-1zM388 126h1v1h-1zM388 127h1v1h-1zM386 131h1v1h-1zM386 132h1v1h-1zM385 133h1v1h-1zM383 137h1v1h-1zM383 138h1v1h-1zM382 139h1v1h-1zM380 143h1v1h-1zM380 144h1v1h-1zM379 145h1v1h-1zM378 149h1v1h-1zM377 150h1v1h-1zM377 151h1v1h-1zM375 155h1v1h-1zM374 156h1v1h-1zM374 157h1v1h-1zM372 161h1v1h-1zM371 162h1v1h-1zM371 163h1v1h-1zM369 167h1v1h-1zM369 168h1v1h-1zM368 169h1v1h-1zM366 173h1v1h-1zM366 174h1v1h-1zM365 175h1v1h-1zM363 179h1v1h-1zM363 180h1v1h-1zM362 181h1v1h-1zM361 185h1v1h-1zM360 186h1v1h-1zM360 187h1v1h-1zM358 191h1v1h-1zM357 192h1v1h-1zM357 193h1v1h-1zM355 197h1v1h-1zM354 198h1v1h-1zM354 199h1v1h-1zM352 203h1v1h-1zM352 204h1v1h-1zM351 205h1v1h-1zM349 209h1v1h-1zM349 210h1v1h-1zM348 211h1v1h-1zM346 215h1v1h-1zM346 216h1v1h-1zM345 217h1v1h-1zM344 221h1v1h-1zM343 222h1v1h-1zM343 223h1v1h-1zM341 227h1v1h-1zM340 228h1v1h-1zM340 229h1v1h-1zM338 233h1v1h-1zM337 234h1v1h-1zM337 235h1v1h-1zM335 239h1v1h-1zM335 240h1v1h-1zM334 241h1v1h-1zM332 245h1v1h-1zM332 246h1v1h-1zM331 247h1v1h-1zM329 251h1v1h-1zM329 252h1v1h-1zM328 253h1v1h-1zM327 257h1v1h-1zM326 258h1v1h-1zM326 259h1v1h-1zM324 263h1v1h-1zM323 264h1v1h-1zM323 265h1v1h-1zM321 269h1v1h-1zM320 270h1v1h-1zM320 271h1v1h-1zM318 275h1v1h-1zM318 276h1v1h-1zM317 277h1v1h-1zM315 281h1v1h-1zM315 282h1v1h-1zM314 283h1v1h-1zM312 287h1v1h-1zM312 288h1v1h-1zM311 289h1v1h-1zM309 293h1v1h-1zM309 294h1v1h-1zM309 295h1v1h-1zM307 299h1v1h-1zM306 300h1v1h-1zM306 301h1v1h-1zM304 305h1v1h-1zM303 306h1v1h-1zM303 307h1v1h-1zM301 311h1v1h-1zM301 312h1v1h-1zM300 313h1v1h-1zM298 317h1v1h-1zM298 318h1v1h-1zM297 319h1v1h-1zM295 323h1v1h-1zM295 324h1v1h-1zM294 325h1v1h-1zM292 329h1v1h-1zM292 330h1v1h-1zM292 331h1v1h-1zM290 335h1v1h-1zM289 336h1v1h-1zM289 337h1v1h-1zM287 341h1v1h-1zM286 342h1v1h-1zM286 343h1v1h-1zM284 347h1v1h-1zM283 348h1v1h-1zM283 349h1v1h-1zM281 353h1v1h-1zM281 354h1v1h-1zM280 355h1v1h-1zM278 359h1v1h-1zM278 360h1v1h-1zM277 361h1v1h-1zM275 365h1v1h-1zM275 366h1v1h-1zM275 367h1v1h-1zM273 371h1v1h-1zM272 372h1v1h-1zM272 373h1v1h-1zM270 377h1v1h-1zM269 378h1v1h-1zM269 379h1v1h-1zM267 383h1v1h-1zM266 384h1v1h-1zM266 385h1v1h-1zM264 389h1v1h-1zM264 390h1v1h-1zM263 391h1v1h-1zM261 395h1v1h-1zM261 396h1v1h-1zM260 397h1v1h-1zM258 401h1v1h-1zM258 402h1v1h-1zM257 403h1v1h-1zM256 407h1v1h-1zM255 408h1v1h-1zM255 409h1v1h-1zM253 413h1v1h-1zM252 414h1v1h-1zM252 415h1v1h-1zM250 419h1v1h-1zM249 420h1v1h-1zM249 421h1v1h-1zM247 425h1v1h-1zM247 426h1v1h-1zM246 427h1v1h-1zM244 431h1v1h-1zM244 432h1v1h-1zM243 433h1v1h-1zM241 437h1v1h-1zM241 438h1v1h-1zM240 439h1v1h-1zM239 443h1v1h-1zM238 444h1v1h-1zM238 445h1v1h-1zM236 449h1v1h-1zM235 450h1v1h-1zM235 451h1v1h-1zM233 455h1v1h-1zM232 456h1v1h-1zM232 457h1v1h-1zM230 461h1v1h-1zM230 462h1v1h-1zM229 463h1v1h-1zM227 467h1v1h-1zM227 468h1v1h-1zM226 469h1v1h-1zM224 473h1v1h-1zM224 474h1v1h-1zM223 475h1v1h-1zM222 479h1v1h-1zM221 480h1v1h-1zM221 481h1v1h-1zM219 485h1v1h-1zM218 486h1v1h-1zM218 487h1v1h-1zM216 491h1v1h-1zM215 492h1v1h-1zM215 493h1v1h-1zM213 497h1v1h-1zM213 498h1v1h-1zM212 499h1v1h-1zM210 503h1v1h-1zM210 504h1v1h-1zM209 505h1v1h-1zM207 509h1v1h-1zM207 510h1v1h-1zM206 511h1v1h-1zM205 515h1v1h-1zM204 516h1v1h-1zM204 517h1v1h-1zM202 521h1v1h-1zM201 522h1v1h-1zM201 523h1v1h-1zM199 527h1v1h-1zM198 528h1v1h-1zM198 529h1v1h-1zM196 533h1v1h-1zM196 534h1v1h-1zM195 535h1v1h-1zM193 539h1v1h-1zM193 540h1v1h-1zM192 541h1v1h-1zM190 545h1v1h-1zM190 546h1v1h-1zM189 547h1v1h-1zM188 551h1v1h-1zM187 552h1v1h-1zM187 553h1v1h-1zM185 557h1v1h-1zM184 558h1v1h-1zM184 559h1v1h-1zM182 563h1v1h-1zM181 564h1v1h-1zM181 565h1v1h-1zM179 569h1v1h-1zM179 570h1v1h-1zM178 571h1v1h-1zM176 575h1v1h-1zM176 576h1v1h-1zM175 577h1v1h-1zM173 581h1v1h-1zM173 582h1v1h-1zM172 583h1v1h-1zM170 587h1v1h-1zM170 588h1v1h-1zM170 589h1v1h-1zM168 593h1v1h-1zM167 594h1v1h-1zM167 595h1v1h-1zM165 599h1v1h-1zM164 600h1v1h-1zM164 601h1v1h-1zM162 605h1v1h-1zM162 606h1v1h-1zM161 607h1v1h-1zM159 611h1v1h-1zM159 612h1v1h-1zM158 613h1v1h-1zM156 617h1v1h-1zM156 618h1v1h-1zM155 619h1v1h-1zM153 623h1v1h-1zM153 624h1v1h-1zM153 625h1v1h-1zM151 629h1v1h-1zM150 630h1v1h-1zM150 631h1v1h-1zM148 635h1v1h-1zM147 636h1v1h-1zM147 637h1v1h-1zM145 641h1v1h-1zM144 642h1v1h-1zM144 643h1v1h-1zM142 647h1v1h-1zM142 648h1v1h-1zM141 649h1v1h-1zM139 653h1v1h-1zM139 654h1v1h-1zM138 655h1v1h-1zM136 659h1v1h-1zM136 660h1v1h-1zM136 661h1v1h-1zM134 665h1v1h-1zM133 666h1v1h-1zM133 667h1v1h-1zM131 671h1v1h-1zM130 672h1v1h-1zM130 673h1v1h-1zM128 677h1v1h-1zM127 678h1v1h-1zM127 679h1v1h-1z"/>
<g class="ce">
<rect x="0" y="1" width="1235" height="1" fill="#000"/>
<rect x="1234" y="1" width="1" height="696" fill="#000"/>
<rect x="0" y="696" width="1235" height="1" fill="#000"/>
<rect x="1235" y="33" width="2" height="1" fill="#000"/>
<rect x="1235" y="66" width="2" height="1" fill="#000"/>
<rect x="1235" y="99" width="2" height="1" fill="#000"/>
<rect x="1235" y="132" width="2" height="1" fill="#000"/>
<rect x="1235" y="165" width="2" height="1" fill="#000"/>
<rect x="1235" y="198" width="2" height="1" fill="#000"/>
<rect x="1235" y="231" width="2" height="1" fill="#000"/>
<rect x="1235" y="264" width="2" height="1" fill="#000"/>
<rect x="1235" y="297" width="2" height="1" fill="#000"/>
<rect x="1235" y="330" width="2" height="1" fill="#000"/>
<rect x="1235" y="363" width="2" height="1" fill="#000"/>
<rect x="1235" y="396" width="2" height="1" fill="#000"/>
<rect x="1235" y="429" width="2" height="1" fill="#000"/>
<rect x="1235" y="462" width="2" height="1" fill="#000"/>
<rect x="1235" y="495" width="2" height="1" fill="#000"/>
<rect x="1235" y="528" width="2" height="1" fill="#000"/>
<rect x="1235" y="561" width="2" height="1" fill="#000"/>
<rect x="1235" y="594" width="2" height="1" fill="#000"/>
<rect x="1235" y="627" width="2" height="1" fill="#000"/>
<rect x="1235" y="660" width="2" height="1" fill="#000"/>
<rect x="1235" y="693" width="2" height="1" fill="#000"/>
<rect x="63" y="697" width="1" height="3" fill="#000"/>
<rect x="127" y="697" width="1" height="3" fill="#000"/>
<rect x="191" y="697" width="1" height="3" fill="#000"/>
<rect x="255" y="697" width="1" height="3" fill="#000"/>
<rect x="319" y="697" width="1" height="3" fill="#000"/>
<rect x="383" y="697" width="1" height="3" fill="#000"/>
<rect x="447" y="697" width="1" height="3" fill="#000"/>
<rect x="511" y="697" width="1" height="3" fill="#000"/>
<rect x="575" y="697" width="1" height="3" fill="#000"/>
<rect x="639" y="697" width="1" height="3" fill="#000"/>
<rect x="703" y="697" width="1" height="3" fill="#000"/>
<rect x="767" y="697" width="1" height="3" fill="#000"/>
<rect x="831" y="697" width="1" height="3" fill="#000"/>
<rect x="895" y="697" width="1" height="3" fill="#000"/>
<rect x="959" y="697" width="1" height="3" fill="#000"/>
</g>
<text x="1240.12" y="37.0" textLength="33.16" lengthAdjust="spacingAndGlyphs">118.690</text>
<text x="1240.09" y="70.0" textLength="33.27" lengthAdjust="spacingAndGlyphs">117.815</text>
<text x="1240.09" y="103.0" textLength="33.27" lengthAdjust="spacingAndGlyphs">116.915</text>
<text x="1240.09" y="136.0" textLength="33.27" lengthAdjust="spacingAndGlyphs">116.015</text>
<text x="1239.30" y="169.0" textLength="34.81" lengthAdjust="spacingAndGlyphs">115.115</text>
<text x="1240.12" y="202.0" textLength="33.16" lengthAdjust="spacingAndGlyphs">114.240</text>
<text x="1240.12" y="235.0" textLength="33.16" lengthAdjust="spacingAndGlyphs">113.340</text>
<text x="1240.01" y="268.0" textLength="34.46" lengthAdjust="spacingAndGlyphs">112.440</text>
<text x="1239.67" y="301.0" textLength="33.95" lengthAdjust="spacingAndGlyphs">111.540</text>
<text x="1240.12" y="334.0" textLength="33.16" lengthAdjust="spacingAndGlyphs">110.640</text>
<text x="1240.14" y="367.0" textLength="33.57" lengthAdjust="spacingAndGlyphs">109.765</text>
<text x="1240.14" y="400.0" textLength="33.57" lengthAdjust="spacingAndGlyphs">108.865</text>
<text x="1240.14" y="433.0" textLength="33.57" lengthAdjust="spacingAndGlyphs">107.965</text>
<text x="1240.14" y="466.0" textLength="33.57" lengthAdjust="spacingAndGlyphs">107.065</text>
<text x="1240.14" y="499.0" textLength="33.57" lengthAdjust="spacingAndGlyphs">106.165</text>
<text x="1240.19" y="532.0" textLength="33.03" lengthAdjust="spacingAndGlyphs">105.290</text>
<text x="1240.19" y="565.0" textLength="33.03" lengthAdjust="spacingAndGlyphs">104.390</text>
<text x="1240.19" y="598.0" textLength="33.03" lengthAdjust="spacingAndGlyphs">103.490</text>
<text x="1240.19" y="631.0" textLength="33.03" lengthAdjust="spacingAndGlyphs">102.590</text>
<text x="1240.19" y="664.0" textLength="33.03" lengthAdjust="spacingAndGlyphs">101.690</text>
<text x="1240.14" y="697.0" textLength="33.57" lengthAdjust="spacingAndGlyphs">100.815</text>
<text x="1219.65" y="34.0" textLength="13.69" lengthAdjust="spacingAndGlyphs">0.0</text>
<text x="1214.46" y="186.0" textLength="18.92" lengthAdjust="spacingAndGlyphs">23.6</text>
<text x="1214.30" y="280.0" textLength="19.22" lengthAdjust="spacingAndGlyphs">38.2</text>
<text x="1214.70" y="356.0" textLength="18.67" lengthAdjust="spacingAndGlyphs">50.0</text>
<text x="1214.75" y="432.0" textLength="18.81" lengthAdjust="spacingAndGlyphs">61.8</text>
<text x="1209.98" y="677.0" textLength="23.35" lengthAdjust="spacingAndGlyphs">100.0</text>
<g class="ce">
<rect x="1236" y="164" width="41" height="11" fill="#f00"/>
<rect x="1236" y="256" width="41" height="11" fill="#f00"/>
<rect x="1236" y="532" width="41" height="11" fill="#f00"/>
<rect x="1236" y="304" width="41" height="11" fill="#000"/>
</g>
<text x="1240.11" y="173.0" textLength="33.32" lengthAdjust="spacingAndGlyphs" class="w">115.000</text>
<text x="1240.11" y="265.0" textLength="33.32" lengthAdjust="spacingAndGlyphs" class="w">112.500</text>
<text x="1240.23" y="541.0" textLength="33.22" lengthAdjust="spacingAndGlyphs" class="w">105.000</text>
<text x="1240.12" y="313.0" textLength="33.62" lengthAdjust="spacingAndGlyphs" class="w">111.222</text>
<text x="-2.23" y="709.0" textLength="51.80" lengthAdjust="spacingAndGlyphs">18 Oct 2016</text>
<text x="61.60" y="709.0" textLength="51.85" lengthAdjust="spacingAndGlyphs">28 Oct 2016</text>
<text x="125.36" y="709.0" textLength="49.84" lengthAdjust="spacingAndGlyphs">9 Nov 2016</text>
<text x="189.54" y="709.0" textLength="54.95" lengthAdjust="spacingAndGlyphs">21 Nov 2016</text>
<text x="253.89" y="709.0" textLength="47.15" lengthAdjust="spacingAndGlyphs">1 Dec 2016</text>
<text x="317.90" y="709.0" textLength="52.15" lengthAdjust="spacingAndGlyphs">13 Dec 2016</text>
<text x="381.98" y="709.0" textLength="52.05" lengthAdjust="spacingAndGlyphs">23 Dec 2016</text>
<text x="445.89" y="709.0" textLength="45.30" lengthAdjust="spacingAndGlyphs">6 Jan 2017</text>
<text x="509.91" y="709.0" textLength="50.11" lengthAdjust="spacingAndGlyphs">18 Jan 2017</text>
<text x="573.65" y="709.0" textLength="50.62" lengthAdjust="spacingAndGlyphs">30 Jan 2017</text>
<text x="638.01" y="709.0" textLength="47.17" lengthAdjust="spacingAndGlyphs">9 Feb 2017</text>
<text x="701.64" y="709.0" textLength="52.45" lengthAdjust="spacingAndGlyphs">21 Feb 2017</text>
<text x="766.05" y="709.0" textLength="47.05" lengthAdjust="spacingAndGlyphs">3 Mar 2017</text>
<text x="830.01" y="709.0" textLength="52.04" lengthAdjust="spacingAndGlyphs">15 Mar 2017</text>
<text x="893.99" y="709.0" textLength="51.38" lengthAdjust="spacingAndGlyphs">27 Mar 2017</text>
<text x="957.71" y="709.0" textLength="45.86" lengthAdjust="spacingAndGlyphs">6 Apr 2017</text>
<path d="M2 8h7l-3.5 4z" fill="#000" class="ce"/>
<text x="13.35" y="13.0" textLength="61.52" lengthAdjust="spacingAndGlyphs">USDJPY,Daily</text>
<text x="81.00" y="13.0" textLength="33.21" lengthAdjust="spacingAndGlyphs">111.019</text>
<text x="117.20" y="13.0" textLength="33.01" lengthAdjust="spacingAndGlyphs">111.570</text>
<text x="153.02" y="13.0" textLength="33.22" lengthAdjust="spacingAndGlyphs">110.989</text>
<text x="188.91" y="13.0" textLength="33.31" lengthAdjust="spacingAndGlyphs">111.222</text>
</svg>
</body>
</html>
